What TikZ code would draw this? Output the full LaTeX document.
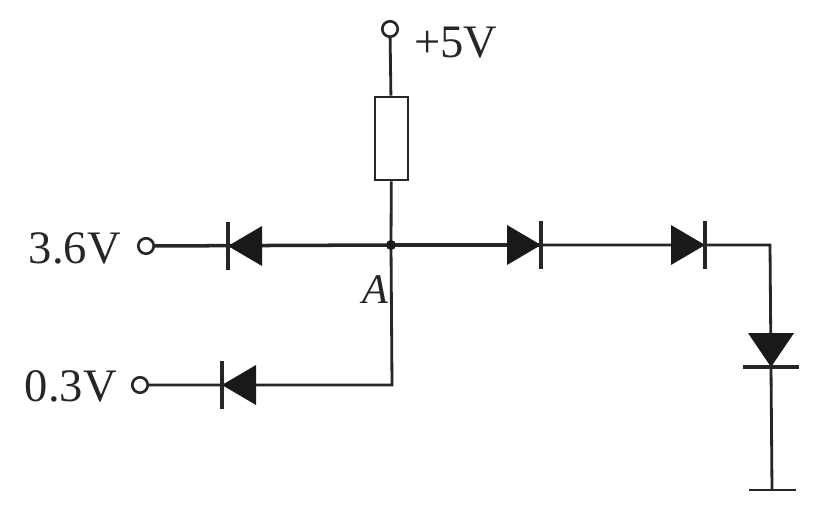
\documentclass[tikz,border=0pt]{standalone}
\usepackage{fontspec}
\setmainfont{Liberation Serif}
\tikzset{
	wire/.style = {line width = 1.6pt, draw = black!85},
	terminal/.style = {circle, draw = black!85, line width = 1.5pt, fill = white, minimum size = 0.31cm, inner sep = 0pt},
	label/.style = {font = \fontsize{26.5}{32}\selectfont, inner sep = 0pt, text = black!85},
	diode/.pic = {
		\fill [black!90] (-17,-20) -- (-17,20) -- (17,0) -- cycle;
		\draw [line width = 2pt, black!85] (17,-24) -- (17,24);
	}
}
\begin{document}
\begin{tikzpicture}[x = 0.02cm, y = -0.02cm]
	\useasboundingbox (0,0) rectangle (814,520);

	\coordinate (junction) at (391,245);
	\coordinate (thickEnd) at (541,245);
	\coordinate (cornerRight) at (770,245);
	\coordinate (cornerLow) at (392,385);
	\coordinate (groundEnd) at (772,490);
	\coordinate (groundLeft) at (749,490);
	\coordinate (groundRight) at (796,490);

	\node [terminal] (supply) at (390,29) {};
	\node [terminal] (inHigh) at (146,246) {};
	\node [terminal] (inLow) at (140,385) {};
	\node [draw = black!85, line width = 1.5pt, fill = white, minimum width = 0.66cm, minimum height = 1.66cm, inner sep = 0pt] (load) at (391.5,138.5) {};

	\begin{scope}[wire]
		\draw (supply) -- (load);
		\draw (load) -- (junction);
		\draw [line width = 2pt] (inHigh) -- (junction);
		\draw [line width = 2pt] (junction) -- (thickEnd);
		\draw (thickEnd) -- (cornerRight) -- (groundEnd);
		\draw (junction) -- (cornerLow) -- (inLow);
		\draw (groundLeft) -- (groundRight);
	\end{scope}

	\fill [black!90] (junction) circle (5);

	\pic at (245,246) [rotate = 180] {diode};
	\pic at (524,245) {diode};
	\pic at (688,245) {diode};
	\pic at (771,350) [rotate = -90, yscale = 1.15] {diode};
	\pic at (239,385) [rotate = 180] {diode};

	\node [label, anchor = west] (supplyText) at (414,43) {+5V};
	\node [label, anchor = east] (inHighText) at (121,248) {3.6V};
	\node [label, anchor = east] (inLowText) at (117,386) {0.3V};
	\node [label, font = \fontsize{24}{28}\selectfont\itshape] (junctionText) at (375,290) {A};
\end{tikzpicture}
\end{document}
